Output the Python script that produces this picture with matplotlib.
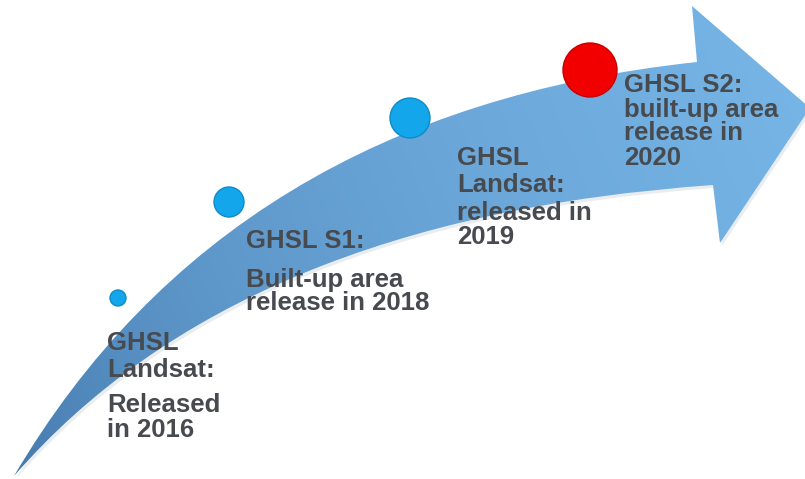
import numpy as np
import matplotlib
matplotlib.use("Agg")
import matplotlib.pyplot as plt
from matplotlib.path import Path
from matplotlib.patches import PathPatch, Circle
from matplotlib.transforms import Affine2D

# milestones along the arrow
releases = ["GHSL Landsat 2016", "GHSL S1 2018", "GHSL Landsat 2019", "GHSL S2 2020"]
label_lines = [
    ["GHSL", "Landsat:", "Released", "in 2016"],
    ["GHSL S1:", "Built-up area", "release in 2018"],
    ["GHSL", "Landsat:", "released in", "2019"],
    ["GHSL S2:", "built-up area", "release in", "2020"],
]
dot_colors = ["#14a6ea", "#14a6ea", "#14a6ea", "#f20000"]

# layout (pixel coordinates, y down)
dot_xy = [(118, 298), (229, 202), (410, 118), (590, 70)]
dot_r = [8, 15, 20, 27]
label_x = [107, 246, 457, 624]
label_baselines = [
    [350, 377, 412, 437],
    [248, 287, 310],
    [165, 192, 220, 244],
    [92, 117, 140, 165],
]

W, H = 805, 479
fig = plt.figure(figsize=(W / 100, H / 100), dpi=100)
ax = fig.add_axes([0, 0, 1, 1])
ax.set_xlim(0, W)
ax.set_ylim(H, 0)
ax.axis("off")

# curved arrow outline
verts = [
    (14, 476),
    (228, 112), (697, 62),
    (692, 6),
    (810, 108),
    (720, 243),
    (713, 185),
    (238, 218), (14, 476),
    (14, 476),
]
codes = [Path.MOVETO, Path.CURVE3, Path.CURVE3, Path.LINETO, Path.LINETO,
         Path.LINETO, Path.LINETO, Path.CURVE3, Path.CURVE3, Path.CLOSEPOLY]
arrow_path = Path(verts, codes)

# faint shadow
shadow = PathPatch(arrow_path.transformed(Affine2D().translate(2, 3)),
                   facecolor="#9aa6b0", edgecolor="none", alpha=0.2)
ax.add_patch(shadow)

patch = PathPatch(arrow_path, facecolor="none", edgecolor="none")
ax.add_patch(patch)

# gradient fill, dark only near the tail
gx, gy = np.meshgrid(np.linspace(0, 1, 400), np.linspace(0, 1, 240))
t = np.clip(0.8 * gx + 0.2 * (1 - gy), 0, 1) ** 0.45
c0 = np.array([58, 108, 160]) / 255
c1 = np.array([120, 182, 232]) / 255
img = c0[None, None, :] * (1 - t[..., None]) + c1[None, None, :] * t[..., None]
im = ax.imshow(img, extent=[0, W, H, 0], origin="upper", zorder=1, aspect="auto")
im.set_clip_path(patch)

# milestone dots
for (x, y), r, c in zip(dot_xy, dot_r, dot_colors):
    edge = "#0d8cc8" if c != "#f20000" else "#c80000"
    ax.add_patch(Circle((x, y), r, facecolor=c, edgecolor=edge, lw=1, zorder=3))

# labels
for lines, x, bases in zip(label_lines, label_x, label_baselines):
    for txt, yb in zip(lines, bases):
        ax.text(x, yb, txt, fontsize=18.5, fontweight="bold", color="#474a4e",
                family="Liberation Sans", va="baseline", ha="left", zorder=4)

fig.savefig("out.png", dpi=100)
